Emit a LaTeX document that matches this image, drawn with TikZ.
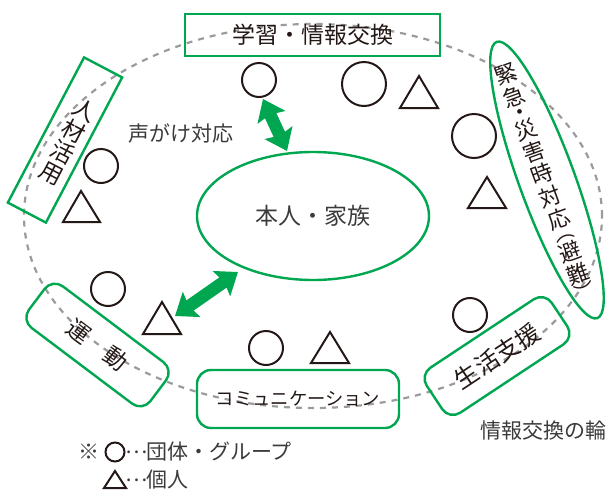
\documentclass[tikz,border=0pt]{standalone}
\usepackage{fontspec}
\setmainfont{Noto Sans CJK JP}
\usetikzlibrary{shapes.geometric,arrows.meta}
\definecolor{grn}{HTML}{00A650}
\definecolor{ink}{HTML}{231815}
\definecolor{soft}{HTML}{3C3A3A}
\definecolor{ring}{HTML}{9B9B9D}
\newcommand{\middots}{\makebox[19pt]{\raisebox{6pt}{…}}}
\tikzset{
  box/.style={draw=grn,line width=2.4pt,rectangle,inner sep=0pt,text=ink,align=center},
  oval/.style={draw=grn,line width=2.4pt,ellipse,inner sep=0pt},
  lab/.style={text=soft,inner sep=0pt,align=left},
  org/.style={draw=ink,line width=2pt,circle,inner sep=0pt},
  tri/.style={draw=ink,line width=2pt,line join=miter},
  dbl/.style={draw=grn,line width=12.5pt,{Stealth[length=20pt,width=30pt,inset=3pt]}-{Stealth[length=20pt,width=30pt,inset=3pt]},fill=grn},
  fsa/.style={font=\fontsize{23}{25}\selectfont},
  fsb/.style={font=\fontsize{21}{25}\selectfont},
  fsc/.style={font=\fontsize{21}{23}\selectfont},
}
\begin{document}
\begin{tikzpicture}[x=1pt,y=-1pt]
\useasboundingbox (0,0) rectangle (614,491);
% ring
\node[draw=ring,line width=2.2pt,dash pattern=on 6pt off 6pt,ellipse,minimum width=578pt,minimum height=384pt,inner sep=0pt] (ring) at (313,216) {};
% central
\node[oval,minimum width=232pt,minimum height=128pt,text=soft,fsa] (core) at (313,216) {本人・家族};
% category boxes
\node[box,fsa,minimum width=255pt,minimum height=42pt] (study) at (312.5,35) {学習・情報交換};
\node[box,minimum width=164pt,minimum height=43pt,rotate=62.3] (hr) at (65,140) {};
\node[text=ink,fsa,align=center,inner sep=0pt,rotate=-27.7] (hrt) at (68,142) {人\\[-1pt]材\\[-1pt]活\\[-1pt]用};
\node[oval,minimum width=294pt,minimum height=56pt,rotate=-70] (emg) at (547,180) {};
\node[text=ink,font=\fontsize{22}{24}\selectfont,align=center,inner sep=0pt,rotate=20] (emgt) at (545,182) {緊\\[1pt]急\\[-8pt]・\\[-5pt]災\\[0pt]害\\[-1pt]時\\[0pt]対\\[0pt]応\\[-11pt]{\fontsize{20}{24}\selectfont ︵}\\[-2pt]避\\[-1pt]難\\[-5pt]{\fontsize{20}{24}\selectfont ︶}};
\node[box,fsa,minimum width=152pt,minimum height=52pt,rounded corners=13pt,rotate=-37] (sport) at (97.5,345) {運　動};
\node[box,font=\fontsize{18.3}{20}\selectfont,minimum width=202pt,minimum height=58pt,rounded corners=14pt] (comm) at (298,399) {コミュニケーション};
\node[box,font=\fontsize{24}{25}\selectfont,minimum width=150pt,minimum height=54pt,rounded corners=13pt,rotate=33.5] (life) at (497,356) {生活支援};
% group markers
\node[org,minimum size=34pt] (c1) at (259,80) {};
\node[org,minimum size=44pt] (c2) at (364,84) {};
\node[org,minimum size=44pt] (c3) at (474,136) {};
\node[org,minimum size=34pt] (c4) at (101,166) {};
\node[org,minimum size=34pt] (c5) at (108,289) {};
\node[org,minimum size=34pt] (c6) at (266,348) {};
\node[org,minimum size=34pt] (c7) at (470,315) {};
\node[org,minimum size=19pt] (c8) at (115,452) {};
% individual markers
\draw[tri] (419,76) -- (400,108) -- (438,108) -- cycle;
\draw[tri] (487,177) -- (468,208) -- (506,208) -- cycle;
\draw[tri] (81,191) -- (63,222) -- (100,222) -- cycle;
\draw[tri] (162,302) -- (143,334) -- (181,334) -- cycle;
\draw[tri] (330,332) -- (311,363) -- (349,363) -- cycle;
\draw[tri] (115,471) -- (104,488) -- (126,488) -- cycle;
% arrows
\coordinate (a1s) at (263,99);
\coordinate (a1e) at (287,151);
\coordinate (a2s) at (238,272);
\coordinate (a2e) at (175,316);
\draw[dbl] (a1s) -- (a1e);
\draw[dbl] (a2s) -- (a2e);
% labels
\node[lab,fsb,anchor=west] (voice) at (128,134) {声がけ対応};
\node[lab,fsc,anchor=west] (note) at (78,452) {※};
\node[lab,fsc,anchor=west] (l1) at (127,452) {\middots 団体・グループ};
\node[lab,fsc,anchor=west] (l2) at (127,480) {\middots 個人};
\node[lab,fsb,anchor=west] (wheel) at (480,431) {情報交換の輪};
\end{tikzpicture}
\end{document}
